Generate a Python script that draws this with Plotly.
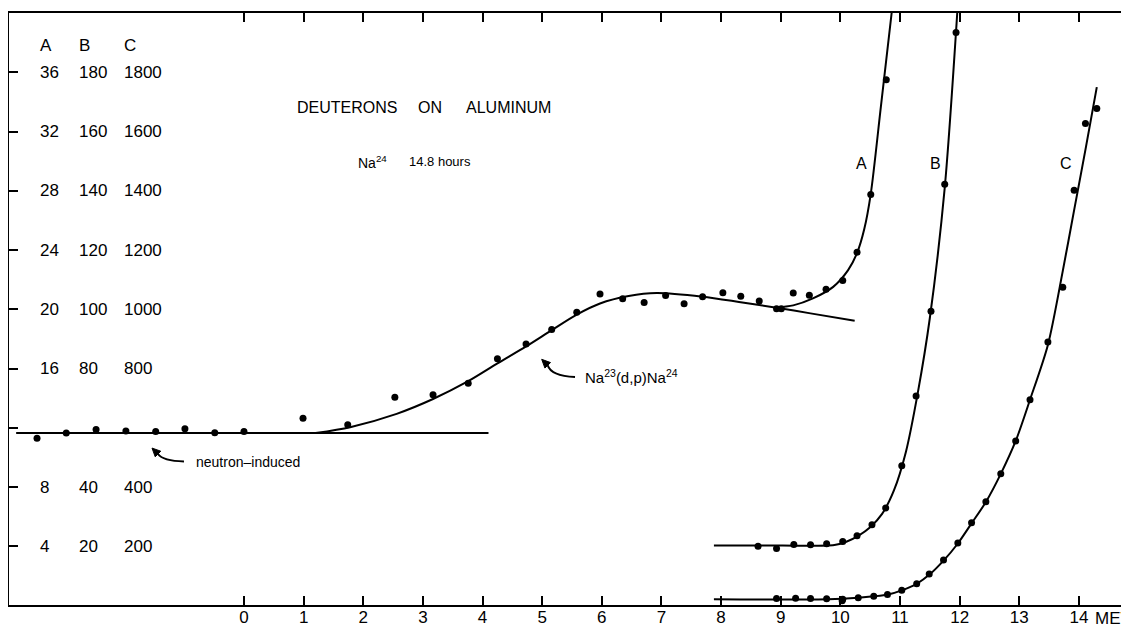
import plotly.graph_objects as go

# ---------------- data ----------------
# measured points, curve A (A units)
energy_A = [-3.47, -2.98, -2.48, -1.98, -1.48, -0.99, -0.49, 0.0, 0.99, 1.74,
            2.53, 3.17, 3.76, 4.25, 4.73, 5.16, 5.58, 5.97, 6.35, 6.71, 7.07,
            7.38, 7.69, 8.03, 8.33, 8.64, 8.93, 9.01, 9.21, 9.48, 9.76, 10.04,
            10.28, 10.51, 10.77]
yield_A = [11.31, 11.65, 11.89, 11.79, 11.75, 11.95, 11.68, 11.75, 12.65, 12.22,
           14.07, 14.23, 15.01, 16.67, 17.66, 18.65, 19.80, 21.03, 20.71, 20.47, 20.94,
           20.38, 20.85, 21.12, 20.88, 20.56, 20.04, 20.04, 21.10, 20.96, 21.35, 21.95,
           23.86, 27.75, 35.50]

# measured points, curve B (B units)
energy_B = [8.62, 8.93, 9.22, 9.50, 9.77, 10.04, 10.28, 10.53, 10.76, 11.03,
            11.27, 11.52, 11.75, 11.94]
yield_B = [20.1, 19.3, 20.7, 20.6, 20.9, 21.7, 23.6, 27.3, 33.0, 47.2,
           70.8, 99.4, 142.2, 193.4]

# measured points, curve C (C units)
energy_C = [8.93, 9.25, 9.50, 9.77, 10.04, 10.03, 10.30, 10.56, 10.79, 11.03,
            11.28, 11.49, 11.73, 11.97, 12.20, 12.44, 12.69, 12.94, 13.18,
            13.48, 13.73, 13.92, 14.11, 14.30]
yield_C = [24.6, 25.6, 24.6, 23.2, 21.9, 17.0, 27.0, 31.7, 38.1, 52.6,
           74.5, 107.5, 154.0, 211.6, 280.0, 351.0, 445.0, 556.0, 695.0,
           890.0, 1075.0, 1402.0, 1627.0, 1678.0]

# drawn curves
neutron_x = [-3.82, 4.10]
neutron_y = [11.65, 11.65]

dp_x = [1.2, 1.78, 2.56, 3.17, 3.76, 4.25, 4.73, 5.16, 5.58, 5.97, 6.45, 6.92,
        7.69, 8.3, 8.93, 9.5, 10.24]
dp_y = [11.65, 12.05, 12.95, 13.95, 15.15, 16.35, 17.5, 18.6, 19.65, 20.4, 20.9,
        21.1, 20.85, 20.5, 20.11, 19.73, 19.23]

riseA_x = [8.90, 9.21, 9.54, 9.88, 10.13, 10.28, 10.40, 10.51, 10.68, 10.86]
riseA_y = [20.12, 20.27, 20.74, 21.52, 22.65, 23.8, 25.4, 27.8, 33.7, 40.0]

curveB_x = [7.88, 9.0, 9.9, 10.1, 10.3, 10.5, 10.7, 10.9, 11.1, 11.3, 11.5, 11.75, 11.96]
curveB_y = [20.3, 20.3, 20.5, 21.6, 23.6, 26.5, 31.0, 39.0, 52.0, 72.0, 97.0, 141.0, 200.0]

curveC_x = [7.88, 9.8, 10.3, 10.56, 10.8, 11.03, 11.28, 11.5, 11.73, 11.97, 12.2,
            12.44, 12.69, 12.94, 13.18, 13.48, 13.73, 13.92, 14.12, 14.30]
curveC_y = [22, 22, 27, 31.7, 38, 52, 74, 106, 152, 210, 278, 350, 445, 556,
            695, 880, 1130, 1335, 1550, 1750]

x_ticks = list(range(0, 15))
A_ticks = [36, 32, 28, 24, 20, 16, 8, 4]
B_ticks = [180, 160, 140, 120, 100, 80, 40, 20]
C_ticks = [1800, 1600, 1400, 1200, 1000, 800, 400, 200]
all_y_ticks = [4, 8, 12, 16, 20, 24, 28, 32, 36]

# ---------------- figure ----------------
FONT = "Liberation Sans"
line_style = dict(color="black", width=2)
mk = dict(color="black", size=7)

fig = go.Figure()
fig.add_trace(go.Scatter(x=neutron_x, y=neutron_y, mode="lines", line=line_style, yaxis="y"))
fig.add_trace(go.Scatter(x=dp_x, y=dp_y, mode="lines", line=dict(shape="spline", smoothing=0.8, **line_style), yaxis="y"))
fig.add_trace(go.Scatter(x=riseA_x, y=riseA_y, mode="lines", line=dict(shape="spline", smoothing=0.8, **line_style), yaxis="y"))
fig.add_trace(go.Scatter(x=curveB_x, y=curveB_y, mode="lines", line=dict(shape="spline", smoothing=0.8, **line_style), yaxis="y2"))
fig.add_trace(go.Scatter(x=curveC_x, y=curveC_y, mode="lines", line=dict(shape="spline", smoothing=0.8, **line_style), yaxis="y3"))
fig.add_trace(go.Scatter(x=energy_A, y=yield_A, mode="markers", marker=mk, yaxis="y"))
fig.add_trace(go.Scatter(x=energy_B, y=yield_B, mode="markers", marker=mk, yaxis="y2"))
fig.add_trace(go.Scatter(x=energy_C, y=yield_C, mode="markers", marker=mk, yaxis="y3"))

Y0, Y1 = 0.05, 40.0
# the page body adds an 8px offset, so the figure is 8px smaller than the window
fig.update_layout(
    width=1121, height=625,
    margin=dict(l=1, r=0, t=5, b=28),
    paper_bgcolor="white", plot_bgcolor="white",
    showlegend=False,
    font=dict(family=FONT, color="black"),
    xaxis=dict(range=[-3.94, 14.84], tickvals=x_ticks, ticks="inside", ticklen=9,
               tickwidth=1.6, tickcolor="black", showline=True, linewidth=2,
               linecolor="black", mirror="ticks", showgrid=False, zeroline=False,
               tickfont=dict(size=17, family=FONT, color="black"), ticklabelstandoff=-4),
    yaxis=dict(range=[Y0, Y1], tickvals=all_y_ticks, ticks="inside", ticklen=9,
               tickwidth=1.6, tickcolor="black", showline=True, linewidth=2,
               linecolor="black", showgrid=False, zeroline=False, showticklabels=False),
    yaxis2=dict(range=[Y0 * 5, Y1 * 5], overlaying="y", visible=False),
    yaxis3=dict(range=[Y0 * 50, Y1 * 50], overlaying="y", visible=False),
)

ann = []
# y tick label columns
col_x = {"A": 0.0256, "B": 0.0604, "C": 0.101}
for name, vals, div in (("A", A_ticks, 1), ("B", B_ticks, 5), ("C", C_ticks, 50)):
    ann.append(dict(text=name, x=col_x[name], xref="paper", y=37.8, yref="y",
                    showarrow=False, font=dict(size=17)))
    for v in vals:
        ann.append(dict(text=str(v), x=col_x[name], xref="paper", y=v / div, yref="y",
                        showarrow=False, font=dict(size=17)))

# title words
for word, xc in (("DEUTERONS", 1.73), ("ON", 3.12), ("ALUMINUM", 4.43)):
    ann.append(dict(text=word, x=xc, y=33.6, showarrow=False, font=dict(size=16)))
ann.append(dict(text="Na<sup>24</sup>", x=1.88, y=29.95, xanchor="left", showarrow=False, font=dict(size=14)))
ann.append(dict(text="14.8 hours", x=2.73, y=29.95, xanchor="left", showarrow=False, font=dict(size=13)))

# curve letters
for letter, xc in (("A", 10.36), ("B", 11.59), ("C", 13.79)):
    ann.append(dict(text=letter, x=xc, y=29.84, showarrow=False, font=dict(size=16)))

ann.append(dict(text="Na<sup>23</sup>(d,p)Na<sup>24</sup>", x=5.68, y=15.46, xanchor="left",
                showarrow=False, font=dict(size=15)))
ann.append(dict(text="neutron\u2013induced", x=-0.84, y=9.71, xanchor="left",
                showarrow=False, font=dict(size=14)))
# axis unit
ann.append(dict(text="MEV", x=14.23, xanchor="left", y=-0.022, yref="paper", yanchor="middle",
                showarrow=False, font=dict(size=17)))
fig.update_layout(annotations=ann)

# curved arrow shafts and heads
arrow_line = dict(color="black", width=2)
fig.add_shape(type="path", path="M 5.551 15.44 Q 5.149 15.50 5.093 16.23",
              line=arrow_line, xref="x", yref="y")
fig.add_shape(type="path", path="M 4.992 16.63 L 5.140 16.41 L 5.046 16.04 Z",
              line=dict(color="black", width=1), fillcolor="black", xref="x", yref="y")
fig.add_shape(type="path", path="M -1.006 9.74 Q -1.358 9.77 -1.442 10.24",
              line=arrow_line, xref="x", yref="y")
fig.add_shape(type="path", path="M -1.542 10.64 L -1.395 10.43 L -1.488 10.05 Z",
              line=dict(color="black", width=1), fillcolor="black", xref="x", yref="y")

fig.write_html("out.html")
